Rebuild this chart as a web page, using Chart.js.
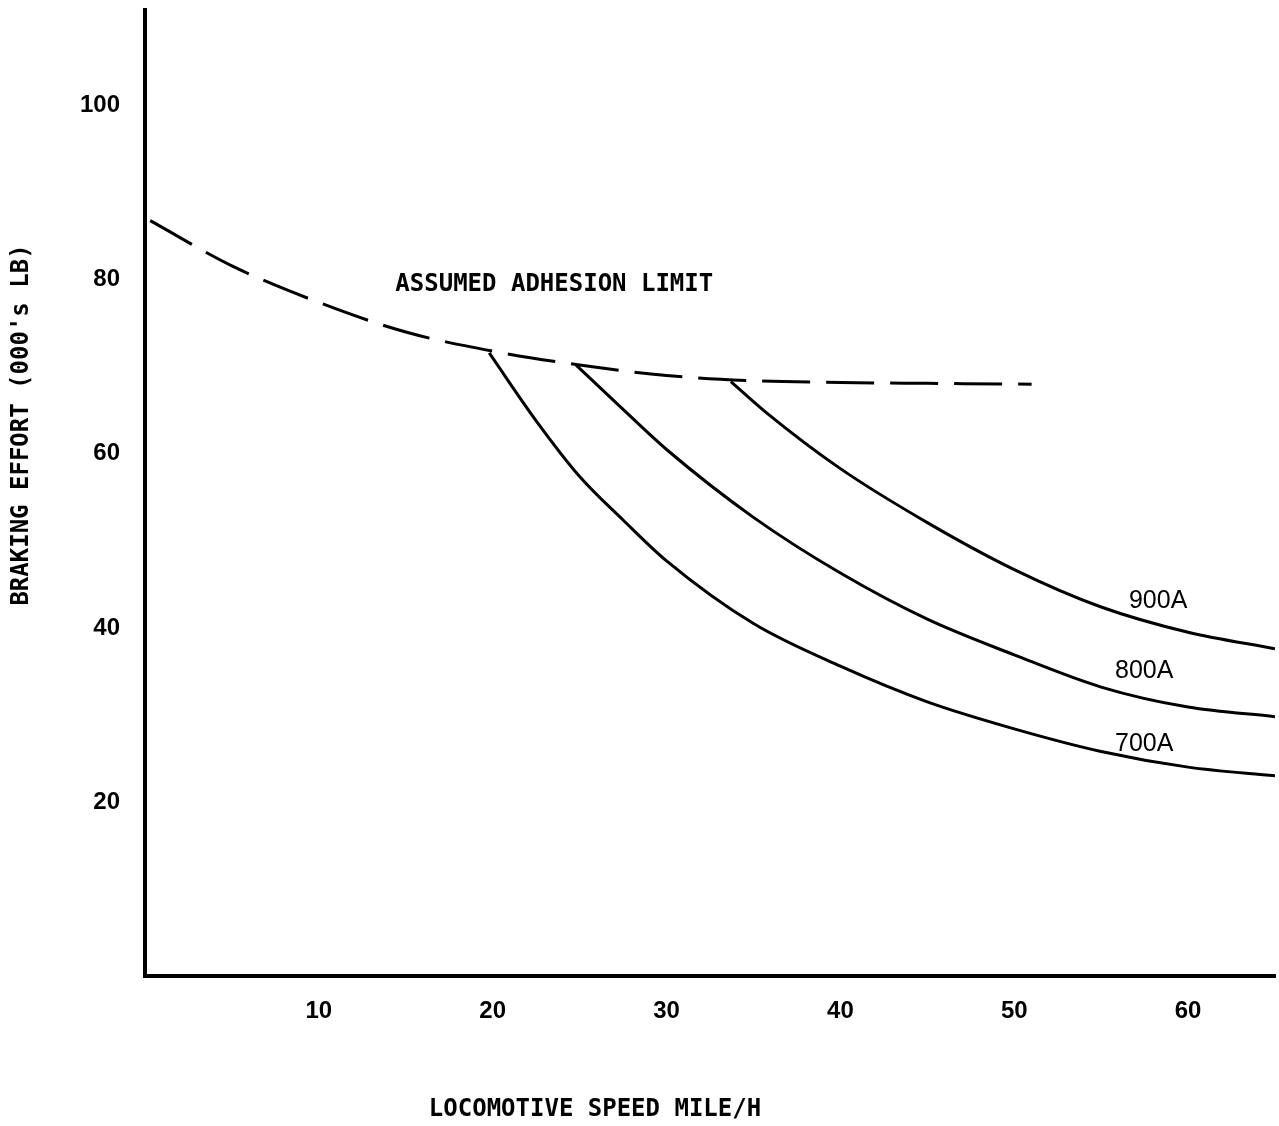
<!DOCTYPE html>
<html>
<head>
<meta charset="utf-8">
<script src="https://cdn.jsdelivr.net/npm/chart.js@4.4.1/dist/chart.umd.min.js"></script>
<style>
  html, body { margin: 0; padding: 0; background: #fff; }
  #wrap { width: 1279px; height: 1126px; }
</style>
</head>
<body>
<div id="wrap"><canvas id="c" width="1279" height="1126"></canvas></div>
<script>
// ---- Data ----
const adhesionSpeed = [0.3, 5, 10, 15, 20, 25, 30, 35, 40, 45, 51];
const adhesionLimit = [86.8, 81.6, 77.4, 74.0, 71.8, 70.2, 69.0, 68.4, 68.2, 68.1, 68.0];

const speed700 = [19.8, 22.5, 25, 27.5, 30, 35, 40, 45, 50, 55, 60, 65];
const effort700 = [71.6, 63.8, 57.4, 52.4, 47.7, 40.5, 35.6, 31.5, 28.4, 25.8, 24.0, 23.0];

const speed800 = [24.8, 27.5, 30, 35, 40, 45, 50, 55, 60, 65];
const effort800 = [70.2, 65.1, 60.5, 52.7, 46.3, 41.0, 36.9, 33.2, 30.9, 29.8];

const speed900 = [33.7, 35.7, 40, 45, 50, 55, 60, 65];
const effort900 = [68.3, 64.8, 58.3, 52.1, 46.7, 42.4, 39.5, 37.6];

const xTickValues = [10, 20, 30, 40, 50, 60];
const yTickValues = [20, 40, 60, 80, 100];

const seriesLabels = ['ASSUMED ADHESION LIMIT', '700A', '800A', '900A'];
const xTitle = 'LOCOMOTIVE SPEED MILE/H';
const yTitle = "BRAKING EFFORT (000's LB)";

function pts(xs, ys) { return xs.map((x, i) => ({ x: x, y: ys[i] })); }

const monoFont = "bold 24px 'DejaVu Sans Mono', 'Liberation Mono', monospace";
const sansFont = "25px 'Liberation Sans', Arial, sans-serif";

const textPlugin = {
  id: 'textPlugin',
  afterDraw(chart) {
    const ctx = chart.ctx;
    const xs = chart.scales.x, ys = chart.scales.y;
    ctx.save();
    ctx.fillStyle = '#000';
    // y-axis title
    ctx.font = monoFont;
    ctx.textAlign = 'center';
    ctx.textBaseline = 'middle';
    ctx.save();
    ctx.translate(22, 425);
    ctx.rotate(-Math.PI / 2);
    ctx.fillText(yTitle, 0, 0);
    ctx.restore();
    // x-axis title
    ctx.fillText(xTitle, 595, 1110);
    // adhesion label
    ctx.textAlign = 'left';
    ctx.fillText(seriesLabels[0], xs.getPixelForValue(14.4), ys.getPixelForValue(79.4));
    // curve labels
    ctx.font = sansFont;
    ctx.fillText(seriesLabels[3], xs.getPixelForValue(56.6), ys.getPixelForValue(43.1));
    ctx.fillText(seriesLabels[2], xs.getPixelForValue(55.8), ys.getPixelForValue(35.0));
    ctx.fillText(seriesLabels[1], xs.getPixelForValue(55.8), ys.getPixelForValue(26.6));
    ctx.restore();
  }
};

const lineBase = {
  borderColor: '#000',
  borderWidth: 3,
  pointRadius: 0,
  fill: false,
  cubicInterpolationMode: 'monotone'
};

const tickFont = { family: "'Liberation Sans', Arial, sans-serif", size: 24, weight: 'bold' };

new Chart(document.getElementById('c'), {
  type: 'line',
  data: {
    datasets: [
      Object.assign({}, lineBase, { label: seriesLabels[0], data: pts(adhesionSpeed, adhesionLimit), borderDash: [48, 16] }),
      Object.assign({}, lineBase, { label: seriesLabels[1], data: pts(speed700, effort700) }),
      Object.assign({}, lineBase, { label: seriesLabels[2], data: pts(speed800, effort800) }),
      Object.assign({}, lineBase, { label: seriesLabels[3], data: pts(speed900, effort900) })
    ]
  },
  options: {
    responsive: false,
    animation: false,
    devicePixelRatio: 1,
    layout: { padding: { top: 10, right: 4, left: 0, bottom: 0 } },
    plugins: { legend: { display: false }, tooltip: { enabled: false }, title: { display: false } },
    scales: {
      x: {
        type: 'linear',
        min: 0,
        max: 65,
        afterBuildTicks(s) { s.ticks = xTickValues.map(v => ({ value: v })); },
        afterFit(s) { s.height = 150; s.paddingLeft = 0; s.paddingRight = 0; },
        grid: { display: false, drawTicks: false },
        border: { display: true, color: '#000', width: 4 },
        ticks: {
          autoSkip: false,
          maxRotation: 0,
          padding: 21,
          color: '#000',
          font: tickFont
        }
      },
      y: {
        type: 'linear',
        min: 0,
        max: 111,
        afterBuildTicks(s) { s.ticks = yTickValues.map(v => ({ value: v })); },
        afterFit(s) { s.width = 145; s.paddingTop = 0; s.paddingBottom = 0; },
        grid: { display: false, drawTicks: false },
        border: { display: true, color: '#000', width: 4 },
        ticks: {
          padding: 25,
          color: '#000',
          font: tickFont
        }
      }
    }
  },
  plugins: [textPlugin]
});
</script>
</body>
</html>
